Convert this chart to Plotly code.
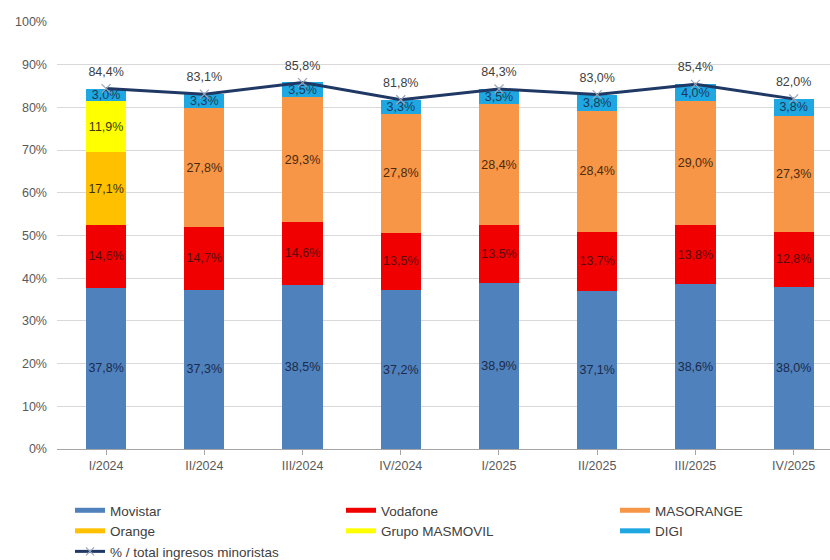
import plotly.graph_objects as go

categories = ["I/2024", "II/2024", "III/2024", "IV/2024", "I/2025", "II/2025", "III/2025", "IV/2025"]
movistar = [37.8, 37.3, 38.5, 37.2, 38.9, 37.1, 38.6, 38.0]
vodafone = [14.6, 14.7, 14.6, 13.5, 13.5, 13.7, 13.8, 12.8]
masorange = [None, 27.8, 29.3, 27.8, 28.4, 28.4, 29.0, 27.3]
orange = [17.1, None, None, None, None, None, None, None]
masmovil = [11.9, None, None, None, None, None, None, None]
digi = [3.0, 3.3, 3.5, 3.3, 3.5, 3.8, 4.0, 3.8]
total_share = [84.4, 83.1, 85.8, 81.8, 84.3, 83.0, 85.4, 82.0]
y_ticks = [0, 10, 20, 30, 40, 50, 60, 70, 80, 90, 100]

def fmt(v):
    return "" if v is None else f"{v:.1f}%".replace(".", ",")

# name, values, bar colour, label colour, legend column
series = [
    ("Movistar", movistar, "#4f81bd", "#1c2b4a", "legend"),
    ("Vodafone", vodafone, "#f00000", "#5a0a0a", "legend2"),
    ("MASORANGE", masorange, "#f79646", "#4a2a10", "legend3"),
    ("Orange", orange, "#ffc000", "#3a3000", "legend"),
    ("Grupo MASMOVIL", masmovil, "#ffff00", "#3a3a00", "legend2"),
    ("DIGI", digi, "#1ea7e1", "#1c3a5a", "legend3"),
]
line_name = "% / total ingresos minoristas"

fig = go.Figure()
x_idx = list(range(len(categories)))
for name, vals, color, tcolor, lg in series:
    fig.add_trace(go.Bar(
        x=x_idx, y=vals, name=name, marker=dict(color=color, line=dict(width=0)),
        width=0.41, text=[fmt(v) for v in vals], textposition="inside",
        insidetextanchor="middle", constraintext="none", textangle=0,
        textfont=dict(family="Liberation Sans, Arial", size=12.5, color=tcolor),
        showlegend=False, hoverinfo="skip",
    ))

fig.add_trace(go.Scatter(
    x=x_idx, y=total_share, mode="lines+markers", name=line_name,
    line=dict(color="#1f3864", width=3),
    marker=dict(symbol="x-thin", size=9, color="#9aa6b8", line=dict(width=1.2, color="#9aa6b8")),
    showlegend=False, hoverinfo="skip",
))
# value labels of the line, placed above the points
fig.add_trace(go.Scatter(
    x=x_idx, y=total_share, mode="markers+text",
    marker=dict(size=14, opacity=0),
    text=[fmt(v) for v in total_share], textposition="top center",
    textfont=dict(family="Liberation Sans, Arial", size=12.5, color="#404040"),
    showlegend=False, hoverinfo="skip",
))

# legend entries
for name, vals, color, tcolor, lg in series:
    fig.add_trace(go.Scatter(x=[None], y=[None], mode="lines", name=name, legend=lg,
                             line=dict(color=color, width=5)))
fig.add_trace(go.Scatter(x=[None], y=[None], mode="lines+markers", name=line_name, legend="legend",
                         line=dict(color="#1f3864", width=3),
                         marker=dict(symbol="x-thin", size=8, color="#9aa6b8",
                                     line=dict(width=1.2, color="#9aa6b8"))))

def legend_at(xpx):
    return dict(orientation="v", traceorder="normal", xref="container", yref="container",
                x=xpx / 830, xanchor="left", y=1 - 495 / 560, yanchor="top",
                font=dict(family="Liberation Sans, Arial", size=13.5, color="#404040"),
                bgcolor="rgba(0,0,0,0)", tracegroupgap=0, itemclick=False, itemdoubleclick=False)

fig.update_layout(
    width=830, height=560, barmode="stack",
    margin=dict(l=57, r=0, t=22, b=111, autoexpand=False),
    plot_bgcolor="white", paper_bgcolor="white",
    font=dict(family="Liberation Sans, Arial", color="#595959", size=12),
    xaxis=dict(range=[-0.5, 7.37], tickmode="array", tickvals=x_idx, ticktext=categories,
               showgrid=False, zeroline=False, showline=True, linecolor="#a6a6a6", linewidth=1,
               ticks="outside", ticklen=5, tickcolor="#a6a6a6", tickson="boundaries",
               tickfont=dict(size=12.5, color="#595959")),
    yaxis=dict(range=[0, 100], tickmode="array", tickvals=y_ticks,
               ticktext=[f"{v}%" for v in y_ticks], showgrid=True, gridcolor="#d9d9d9",
               zeroline=False, showline=False, ticks="", ticklabelstandoff=9,
               tickfont=dict(size=12.5, color="#595959")),
    legend=legend_at(70),
    legend2=legend_at(341),
    legend3=legend_at(615),
)

fig.write_html("out.html", config={"displayModeBar": False},
               post_script="document.body.style.margin='0';")
